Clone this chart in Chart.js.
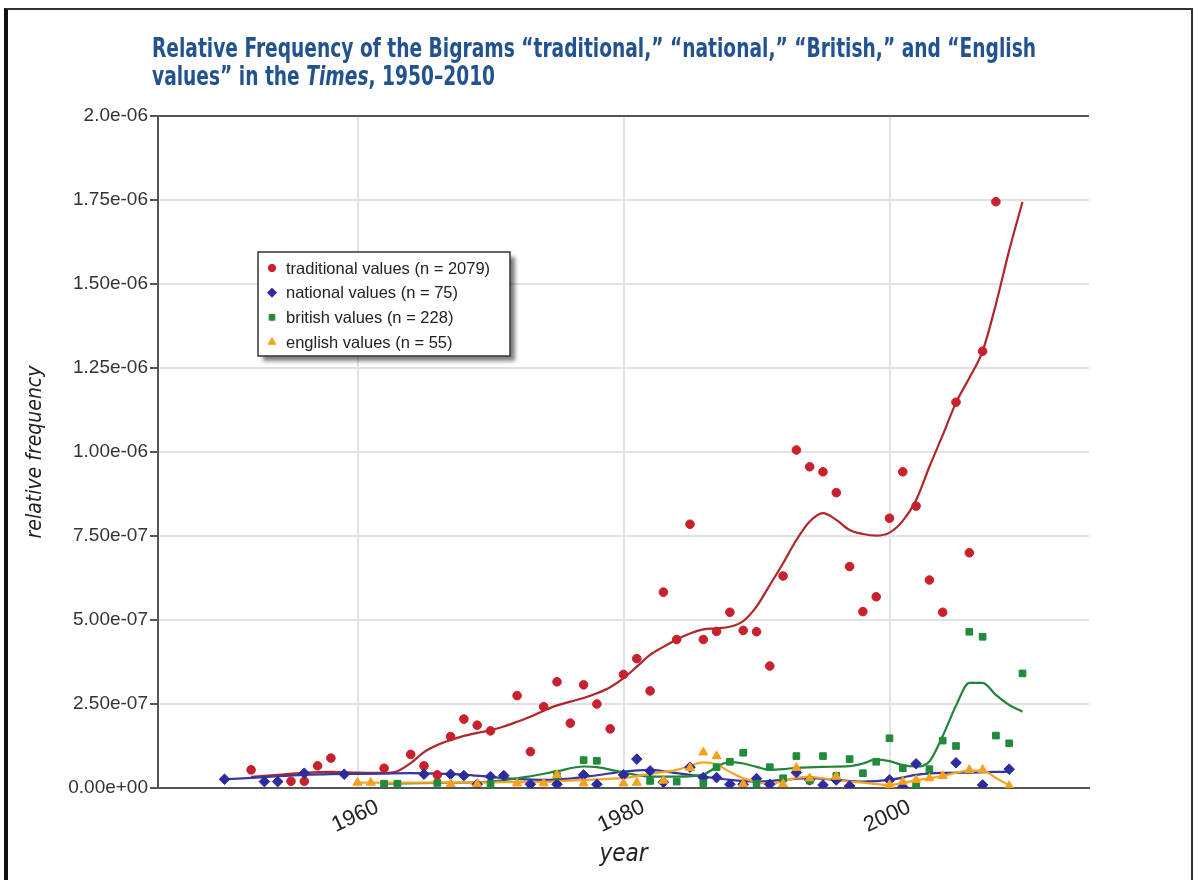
<!DOCTYPE html>
<html><head><meta charset="utf-8">
<script src="https://cdn.jsdelivr.net/npm/chart.js@4/dist/chart.umd.min.js"></script>
<style>
html,body{margin:0;padding:0;background:#fff;}
#wrap{position:relative;width:1195px;height:880px;overflow:hidden;background:#fff;}
#frame{position:absolute;left:4px;top:8px;width:1189px;height:900px;border-left:4px solid #111;border-top:2px solid #333;border-right:2px solid #333;box-sizing:border-box;}
#title{position:absolute;left:152px;top:34px;font-family:"Liberation Sans Narrow","DejaVu Sans Condensed",sans-serif;font-weight:bold;font-size:27px;line-height:28px;color:#22528f;white-space:nowrap;transform:scaleX(0.767);transform-origin:0 0;}
canvas{position:absolute;left:0;top:0;}
</style></head>
<body><div id="wrap"><div id="frame"></div><canvas id="c" width="1195" height="880"></canvas><div id="title">Relative Frequency of the Bigrams “traditional,” “national,” “British,” and “English<br>values” in the <i>Times</i>, 1950–2010</div></div>
<script>
// ---- data ----
const tradYears  = [1952,1955,1956,1957,1958,1962,1964,1965,1966,1967,1968,1969,1970,1972,1973,1974,1975,1976,1977,1978,1979,1980,1981,1982,1983,1984,1985,1986,1987,1988,1989,1990,1991,1992,1993,1994,1995,1996,1997,1998,1999,2000,2001,2002,2003,2004,2005,2006,2007,2008];
const tradValues = [5.4e-8,2.0e-8,2.0e-8,6.6e-8,8.9e-8,5.9e-8,1.0e-7,6.6e-8,3.9e-8,1.53e-7,2.05e-7,1.87e-7,1.70e-7,2.75e-7,1.08e-7,2.42e-7,3.16e-7,1.93e-7,3.07e-7,2.50e-7,1.76e-7,3.38e-7,3.85e-7,2.89e-7,5.83e-7,4.42e-7,7.85e-7,4.42e-7,4.66e-7,5.23e-7,4.69e-7,4.65e-7,3.63e-7,6.31e-7,1.006e-6,9.56e-7,9.41e-7,8.79e-7,6.59e-7,5.25e-7,5.69e-7,8.03e-7,9.41e-7,8.39e-7,6.19e-7,5.23e-7,1.148e-6,7.0e-7,1.30e-6,1.745e-6];
const tradFitYears  = [1952,1954,1956,1958,1960,1962,1963,1964,1965,1966,1967,1968,1969,1970,1971,1972,1973,1974,1975,1976,1977,1978,1979,1980,1981,1982,1983,1984,1985,1986,1987,1988,1989,1990,1991,1992,1993,1994,1995,1996,1997,1998,1999,2000,2001,2002,2003,2004,2005,2006,2007,2008,2009,2010];
const tradFitValues = [3.3e-8,3.9e-8,4.5e-8,4.8e-8,4.6e-8,4.5e-8,5.0e-8,7.4e-8,1.07e-7,1.28e-7,1.43e-7,1.55e-7,1.64e-7,1.72e-7,1.83e-7,1.97e-7,2.12e-7,2.30e-7,2.46e-7,2.57e-7,2.68e-7,2.82e-7,3.0e-7,3.27e-7,3.61e-7,3.96e-7,4.2e-7,4.42e-7,4.6e-7,4.72e-7,4.75e-7,4.8e-7,4.97e-7,5.4e-7,6.04e-7,6.69e-7,7.38e-7,7.93e-7,8.18e-7,7.98e-7,7.68e-7,7.56e-7,7.51e-7,7.6e-7,7.95e-7,8.57e-7,9.56e-7,1.05e-6,1.147e-6,1.22e-6,1.30e-6,1.44e-6,1.60e-6,1.745e-6];

const natYears  = [1950,1953,1954,1956,1959,1965,1967,1968,1969,1970,1971,1973,1975,1977,1978,1980,1981,1982,1983,1985,1986,1987,1988,1989,1990,1991,1993,1994,1995,1996,1997,2000,2001,2002,2005,2007,2009];
const natValues = [2.6e-8,1.9e-8,1.9e-8,4.4e-8,4.1e-8,4.1e-8,4.1e-8,3.7e-8,1.1e-8,3.4e-8,3.7e-8,1.1e-8,1.1e-8,3.9e-8,1.1e-8,3.9e-8,8.6e-8,5.1e-8,1.7e-8,6.2e-8,3.1e-8,3.1e-8,1.1e-8,1.1e-8,2.8e-8,1.1e-8,4.6e-8,2.4e-8,9e-9,2.4e-8,6e-9,2.4e-8,3e-9,7.2e-8,7.5e-8,9e-9,5.6e-8];
const natFitYears  = [1950,1952,1954,1956,1958,1960,1962,1964,1966,1968,1970,1972,1974,1976,1978,1980,1982,1984,1986,1988,1990,1992,1994,1996,1998,2000,2002,2004,2006,2009];
const natFitValues = [2.6e-8,3.0e-8,3.5e-8,3.9e-8,4.1e-8,4.2e-8,4.3e-8,4.4e-8,4.3e-8,4.0e-8,3.3e-8,2.7e-8,2.4e-8,2.8e-8,3.8e-8,4.9e-8,5.4e-8,4.4e-8,3.4e-8,2.4e-8,1.9e-8,2.4e-8,2.9e-8,2.4e-8,1.9e-8,2.4e-8,3.9e-8,4.5e-8,4.6e-8,4.9e-8];

const britYears  = [1962,1963,1966,1970,1975,1977,1978,1982,1984,1986,1987,1988,1989,1990,1991,1992,1993,1994,1995,1996,1997,1998,1999,2000,2001,2002,2003,2004,2005,2006,2007,2008,2009,2010];
const britValues = [1.3e-8,1.3e-8,1.5e-8,1.2e-8,3.6e-8,8.3e-8,8.1e-8,2.1e-8,1.9e-8,1.4e-8,6.2e-8,7.8e-8,1.05e-7,1.3e-8,6.2e-8,2.9e-8,9.5e-8,2.2e-8,9.5e-8,3.6e-8,8.6e-8,4.4e-8,7.8e-8,1.48e-7,5.9e-8,9e-9,5.6e-8,1.41e-7,1.25e-7,4.65e-7,4.5e-7,1.56e-7,1.33e-7,3.41e-7];
const britFitYears  = [1962,1966,1970,1973,1975,1977,1978,1980,1982,1984,1986,1987,1988,1989,1990,1991,1992,1993,1995,1997,1998,1999,2000,2001,2002,2003,2004,2005,2006,2007,2008,2009,2010];
const britFitValues = [1.3e-8,1.5e-8,1.9e-8,3.5e-8,5.0e-8,6.4e-8,6.2e-8,4.6e-8,3.4e-8,3.4e-8,4.0e-8,6.3e-8,7.8e-8,7.3e-8,6.3e-8,5.4e-8,5.6e-8,6.0e-8,6.3e-8,6.5e-8,7.3e-8,8.5e-8,8.0e-8,6.8e-8,6.4e-8,7.9e-8,1.55e-7,2.45e-7,3.13e-7,3.13e-7,2.77e-7,2.47e-7,2.27e-7];

const engYears  = [1960,1961,1967,1969,1972,1974,1975,1977,1980,1981,1983,1985,1986,1987,1989,1992,1993,1994,1996,2000,2001,2002,2003,2004,2006,2007,2009];
const engValues = [1.6e-8,1.6e-8,1.2e-8,1.2e-8,1.4e-8,1.4e-8,3.9e-8,1.4e-8,1.4e-8,1.6e-8,2.2e-8,6.0e-8,1.06e-7,9.5e-8,1.2e-8,1.2e-8,6.0e-8,2.9e-8,3.4e-8,9e-9,1.9e-8,2.4e-8,2.9e-8,3.6e-8,5.4e-8,5.4e-8,6e-9];
const engFitYears  = [1960,1965,1970,1975,1977,1980,1982,1984,1985,1986,1987,1988,1989,1990,1991,1992,1993,1994,1995,1996,1997,1998,1999,2000,2001,2002,2003,2004,2005,2006,2007,2008,2009];
const engFitValues = [1.6e-8,1.6e-8,1.7e-8,2.0e-8,2.4e-8,3.0e-8,4.2e-8,5.4e-8,6.6e-8,7.6e-8,7.0e-8,4.8e-8,2.9e-8,1.8e-8,1.2e-8,2.0e-8,3.0e-8,3.3e-8,2.9e-8,2.4e-8,1.9e-8,1.6e-8,1.2e-8,9e-9,1.5e-8,2.3e-8,2.9e-8,3.6e-8,4.5e-8,5.2e-8,5.2e-8,3.0e-8,8e-9];

const seriesLabels = ['traditional values (n = 2079)','national values (n = 75)','british values (n = 228)','english values (n = 55)'];
const yTickValues = [0,2.5e-7,5e-7,7.5e-7,1e-6,1.25e-6,1.5e-6,1.75e-6,2e-6];
const yTickLabels = ['0.00e+00','2.50e-07','5.00e-07','7.50e-07','1.00e-06','1.25e-06','1.50e-06','1.75e-06','2.0e-06'];
const xTickValues = [1960,1980,2000];
const xTickLabels = ['1960','1980','2000'];

// ---- build ----
const pts = (xs, ys) => xs.map((x, i) => ({x: x, y: ys[i]}));
const colors = {
  red:   {pt:'#c8202c', ln:'#b0262a'},
  blue:  {pt:'#2c2c9e', ln:'#3636a6'},
  green: {pt:'#1f8b3b', ln:'#24843a'},
  orange:{pt:'#f6a11c', ln:'#f5a524'}
};
function pointSet(label, data, c, style, r, order) {
  return {label, data, showLine:false, pointStyle:style, pointRadius:r, pointHoverRadius:r,
          backgroundColor:c.pt, borderColor:c.pt, borderWidth:1, order};
}
function fitSet(data, c, order) {
  return {label:'', isFit:true, data, showLine:true, pointRadius:0, pointHoverRadius:0,
          borderColor:c.ln, backgroundColor:c.ln, borderWidth:2.2, tension:0.4,
          cubicInterpolationMode:'monotone', fill:false, order};
}
const datasets = [
  pointSet(seriesLabels[0], pts(tradYears, tradValues), colors.red, 'circle', 4.3, 4),
  pointSet(seriesLabels[1], pts(natYears, natValues), colors.blue, 'rectRot', 5.3, 3),
  pointSet(seriesLabels[2], pts(britYears, britValues), colors.green, 'rect', 4.7, 2),
  pointSet(seriesLabels[3], pts(engYears, engValues), colors.orange, 'triangle', 5.2, 1),
  fitSet(pts(tradFitYears, tradFitValues), colors.red, 8),
  fitSet(pts(natFitYears, natFitValues), colors.blue, 7),
  fitSet(pts(britFitYears, britFitValues), colors.green, 6),
  fitSet(pts(engFitYears, engFitValues), colors.orange, 5)
];

const legendPlugin = {
  id:'boxLegend',
  afterDraw(chart){
    const ctx = chart.ctx;
    const items = chart.data.datasets.filter(d => !d.isFit);
    const L=258, T=252, W=252, H=104;
    ctx.save();
    ctx.shadowColor='rgba(0,0,0,0.5)'; ctx.shadowOffsetX=5; ctx.shadowOffsetY=5; ctx.shadowBlur=4;
    ctx.fillStyle='#fff'; ctx.fillRect(L,T,W,H);
    ctx.restore();
    ctx.save();
    ctx.strokeStyle='#333'; ctx.lineWidth=1.5; ctx.strokeRect(L,T,W,H);
    ctx.font='16.5px "Liberation Sans", Arial, sans-serif'; ctx.textBaseline='middle'; ctx.textAlign='left';
    items.forEach((d,i) => {
      const y = T + 16 + i*24.7;
      ctx.fillStyle = d.backgroundColor; ctx.strokeStyle = d.borderColor; ctx.lineWidth = 1;
      Chart.helpers.drawPoint(ctx, {pointStyle:d.pointStyle, radius:d.pointRadius*0.85, borderWidth:1, rotation:0}, 272, y);
      ctx.fillStyle='#222'; ctx.fillText(d.label, 286, y+1);
    });
    ctx.restore();
  }
};

new Chart(document.getElementById('c'), {
  type:'scatter',
  data:{datasets},
  plugins:[legendPlugin],
  options:{
    responsive:false, animation:false, devicePixelRatio:1,
    layout:{padding:{top:116, right:106, left:0, bottom:0}},
    plugins:{legend:{display:false}, tooltip:{enabled:false}, title:{display:false}},
    scales:{
      x:{
        type:'linear', min:1945, max:2015,
        afterBuildTicks(s){ s.ticks = xTickValues.map(v => ({value:v})); },
        afterFit(s){ s.height = 92; },
        ticks:{autoSkip:false, minRotation:25, maxRotation:25, padding:6, labelOffset:20,
               color:'#222', font:{family:'"Liberation Sans", Arial, sans-serif', size:22},
               callback:(v) => { const i = xTickValues.indexOf(v); return i >= 0 ? xTickLabels[i] : ''; }},
        grid:{color:'#e2e2e2', lineWidth:2, drawTicks:false},
        border:{color:'#555', width:2},
        title:{display:true, text:'year', color:'#222', padding:{top:0,bottom:11},
               font:{family:'"Liberation Sans Narrow","DejaVu Sans Condensed",sans-serif', size:24, style:'italic'}}
      },
      y:{
        min:0, max:2e-6,
        afterBuildTicks(s){ s.ticks = yTickValues.map(v => ({value:v})); },
        afterFit(s){ s.width = 158; },
        ticks:{autoSkip:false, padding:2, color:'#333',
               font:{family:'"Liberation Sans", Arial, sans-serif', size:19},
               callback:(v) => { const i = yTickValues.findIndex(t => Math.abs(t - v) < 1e-12); return i >= 0 ? yTickLabels[i] : ''; }},
        grid:{color:(c) => (c.tick && Math.abs(c.tick.value - 2e-6) < 1e-12) ? '#555' : '#e2e2e2',
              lineWidth:2, tickColor:'#555', tickLength:8},
        border:{color:'#555', width:2},
        title:{display:true, text:'relative frequency', color:'#222', padding:{top:23,bottom:0},
               font:{family:'"Liberation Sans Narrow","DejaVu Sans Condensed",sans-serif', size:21, style:'italic'}}
      }
    }
  }
});
</script>
</body></html>
